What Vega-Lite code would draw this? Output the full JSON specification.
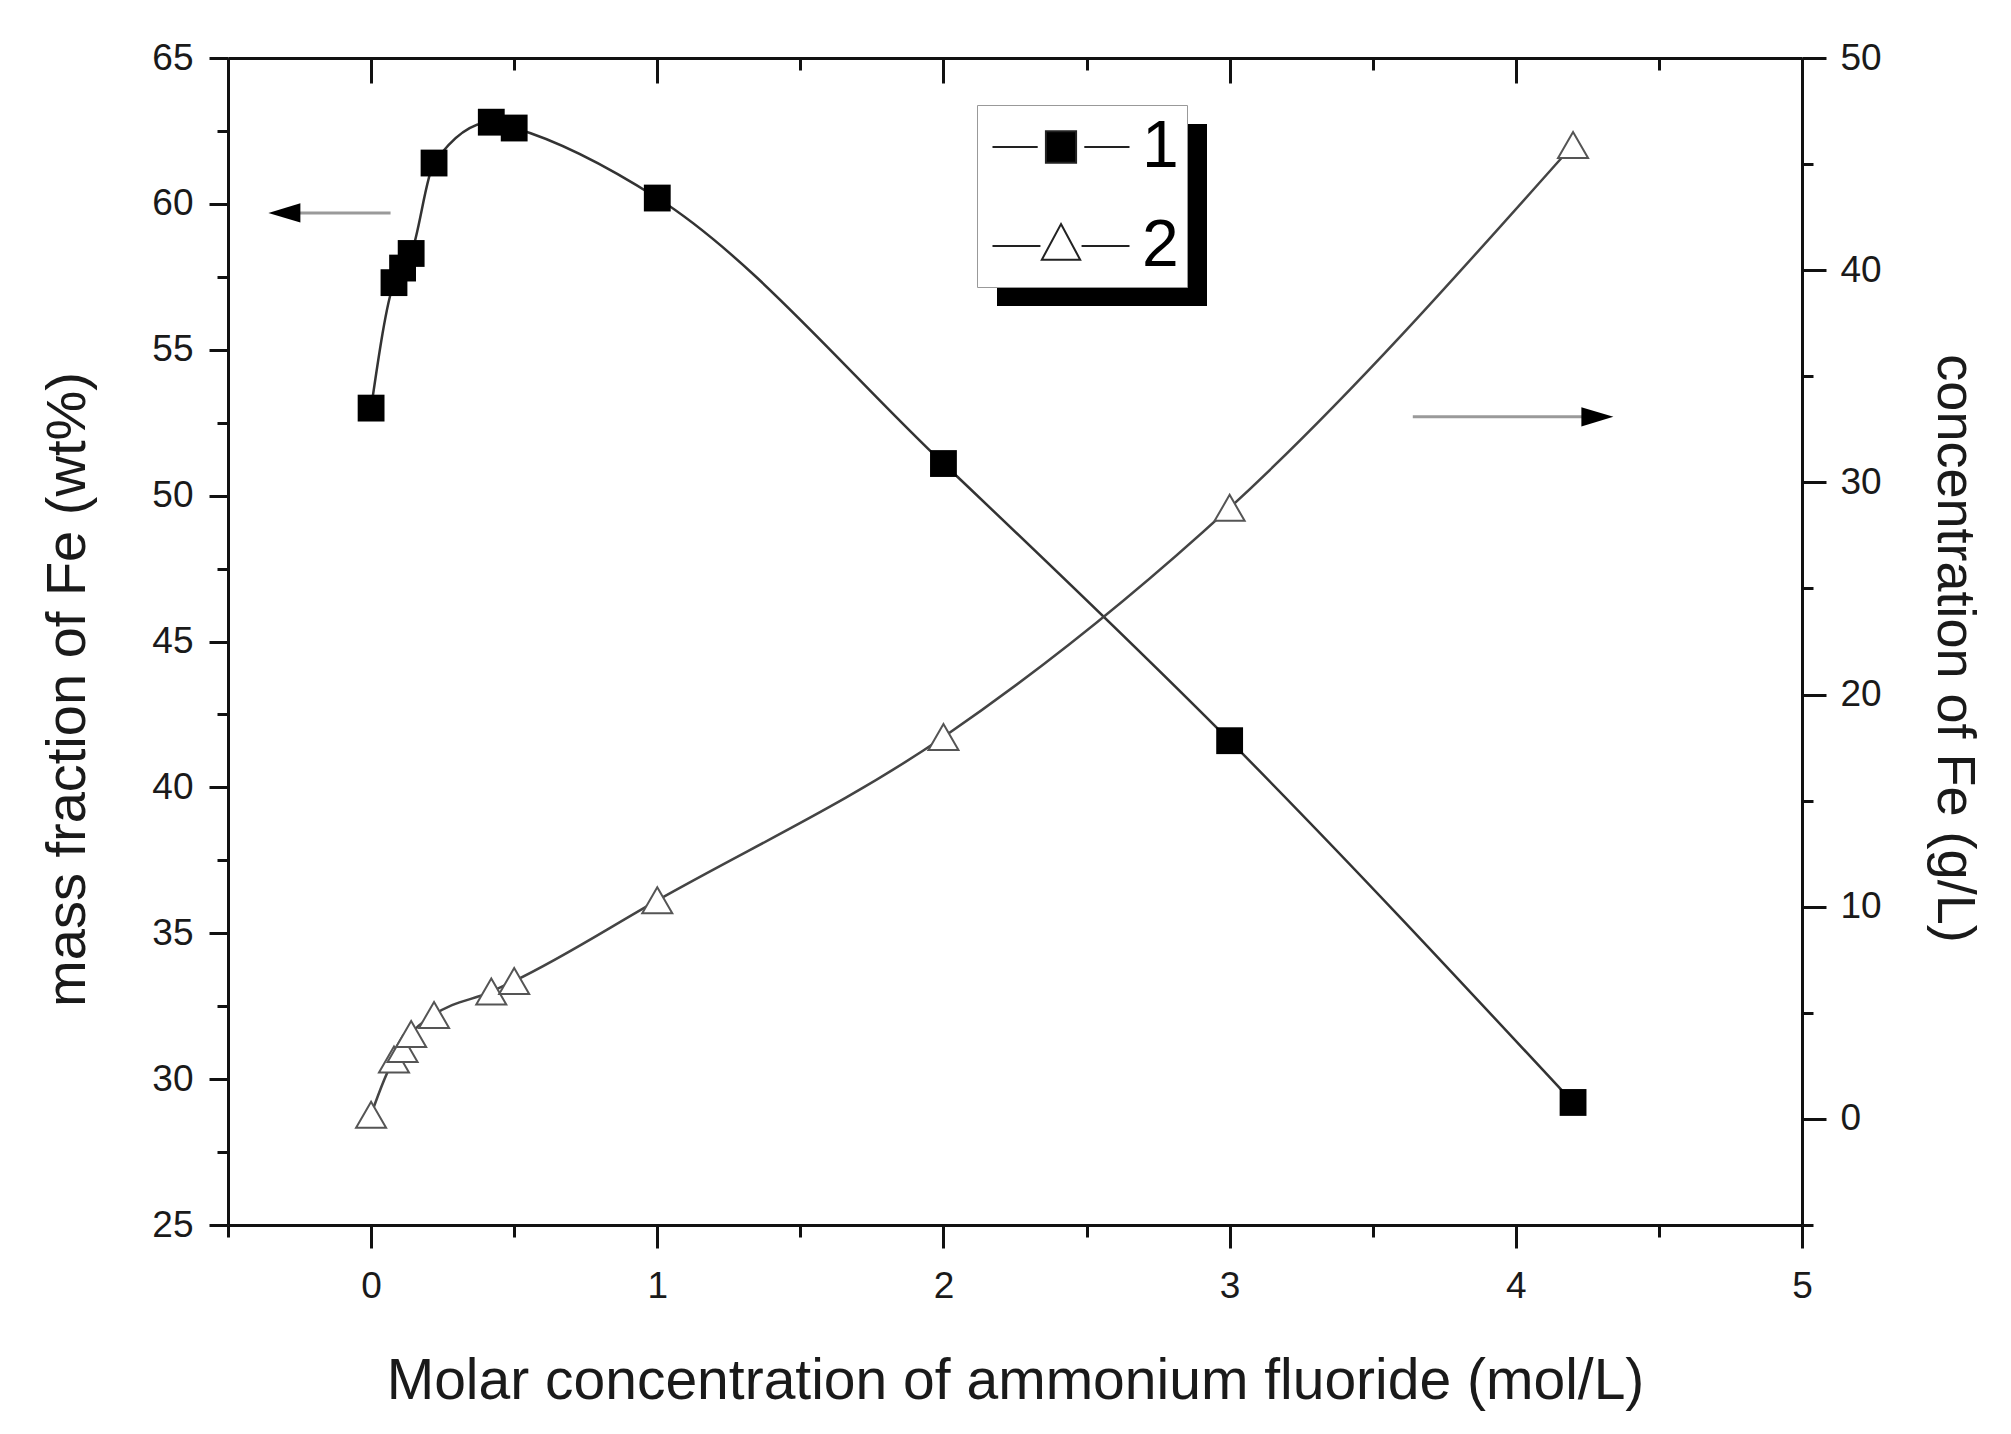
{
  "$schema": "https://vega.github.io/schema/vega-lite/v6.json",
  "width": 1574,
  "height": 1167,
  "autosize": {"type": "none"},
  "padding": {"left": 228, "top": 58, "right": 209, "bottom": 209},
  "background": "white",
  "config": {
    "view": {"stroke": null},
    "axis": {
      "labelFont": "Liberation Sans",
      "titleFont": "Liberation Sans",
      "labelFontSize": 37,
      "titleFontSize": 57,
      "labelColor": "#1a1a1a",
      "titleColor": "#1a1a1a",
      "titleFontWeight": "normal",
      "domainColor": "#111111",
      "tickColor": "#111111",
      "domainWidth": 3,
      "tickWidth": 3,
      "grid": false,
      "labelFlush": false,
      "labelOverlap": false
    }
  },
  "datasets": {
    "fe": [
      {"s": "1", "x": 0, "y": 53.0},
      {"s": "1", "x": 0.08, "y": 57.3},
      {"s": "1", "x": 0.11, "y": 57.8},
      {"s": "1", "x": 0.14, "y": 58.3},
      {"s": "1", "x": 0.22, "y": 61.4},
      {"s": "1", "x": 0.42, "y": 62.8},
      {"s": "1", "x": 0.5, "y": 62.6},
      {"s": "1", "x": 1, "y": 60.2},
      {"s": "1", "x": 2, "y": 51.1},
      {"s": "1", "x": 3, "y": 41.6},
      {"s": "1", "x": 4.2, "y": 29.2},
      {"s": "2", "x": 0, "y": 0.2},
      {"s": "2", "x": 0.08, "y": 2.8},
      {"s": "2", "x": 0.11, "y": 3.3},
      {"s": "2", "x": 0.14, "y": 4.0},
      {"s": "2", "x": 0.22, "y": 4.9},
      {"s": "2", "x": 0.42, "y": 6.0},
      {"s": "2", "x": 0.5, "y": 6.5},
      {"s": "2", "x": 1, "y": 10.3},
      {"s": "2", "x": 2, "y": 18.0},
      {"s": "2", "x": 3, "y": 28.8},
      {"s": "2", "x": 4.2, "y": 45.9}
    ],
    "arrows": [
      {"d": "left", "x1": -0.303, "x2": 0.068, "y": 59.69},
      {"d": "right", "x1": 3.64, "x2": 4.285, "y": 52.7}
    ]
  },
  "resolve": {"scale": {"y": "independent"}, "axis": {"x": "independent"}},
  "layer": [
    {
      "data": {"name": "fe"},
      "encoding": {
        "x": {
          "field": "x", "type": "quantitative",
          "scale": {"domain": [-0.5, 5], "nice": false, "zero": false},
          "axis": {
            "orient": "bottom",
            "values": [-0.5, 0, 0.5, 1, 1.5, 2, 2.5, 3, 3.5, 4, 4.5, 5],
            "labelExpr": "datum.value % 1 === 0 ? format(datum.value, 'd') : ''",
            "tickSize": {"condition": {"test": "datum.value % 1 === 0", "value": 23}, "value": 12},
            "labelPadding": 20,
            "title": "Molar concentration of ammonium fluoride (mol/L)",
            "titleBaseline": "alphabetic",
            "titleY": 173
          }
        },
        "y": {
          "field": "y", "type": "quantitative",
          "scale": {"domain": [25, 65], "nice": false, "zero": false},
          "axis": {
            "orient": "left",
            "values": [25, 27.5, 30, 32.5, 35, 37.5, 40, 42.5, 45, 47.5, 50, 52.5, 55, 57.5, 60, 62.5, 65],
            "labelExpr": "datum.value % 5 === 0 ? datum.label : ''",
            "tickSize": {"condition": {"test": "datum.value % 5 === 0", "value": 19}, "value": 11},
            "labelPadding": 16,
            "title": "mass fraction of Fe (wt%)",
            "titleFontSize": 56,
            "titleAngle": -90,
            "titleBaseline": "alphabetic",
            "titleAlign": "center",
            "titleX": -144,
            "titleY": 631
          }
        }
      },
      "layer": [
        {
          "transform": [{"filter": "datum.s === '1'"}],
          "mark": {"type": "line", "interpolate": "monotone", "color": "#333333", "strokeWidth": 2.5}
        },
        {
          "transform": [{"filter": "datum.s === '1'"}],
          "mark": {"type": "square", "size": 720, "color": "#000000", "filled": true, "opacity": 1}
        },
        {
          "data": {"name": "arrows"},
          "mark": {"type": "rule", "color": "#9a9a9a", "strokeWidth": 3},
          "encoding": {
            "x": {"field": "x1", "type": "quantitative"},
            "x2": {"field": "x2"},
            "y": {"field": "y", "type": "quantitative"}
          }
        },
        {
          "data": {"name": "arrows"},
          "transform": [{"filter": "datum.d === 'left'"}],
          "mark": {"type": "point", "shape": "M-1,0L1,-0.6L1,0.6Z", "size": 1024, "filled": true, "color": "#000000", "opacity": 1},
          "encoding": {
            "x": {"field": "x1", "type": "quantitative"},
            "y": {"field": "y", "type": "quantitative"}
          }
        },
        {
          "data": {"name": "arrows"},
          "transform": [{"filter": "datum.d === 'right'"}],
          "mark": {"type": "point", "shape": "M1,0L-1,-0.6L-1,0.6Z", "size": 1024, "filled": true, "color": "#000000", "opacity": 1},
          "encoding": {
            "x": {"field": "x2", "type": "quantitative"},
            "y": {"field": "y", "type": "quantitative"}
          }
        },
        {
          "mark": {"type": "point", "filled": true, "opacity": 0, "stroke": "#222222", "strokeWidth": 2},
          "encoding": {
            "strokeDash": {
              "field": "s", "type": "nominal",
              "legend": {
                "orient": "none", "legendX": 769, "legendY": 66, "title": null,
                "zindex": 0,
                "fillColor": "#000000",
                "labelColor": "#000000",
                "labelExpr": "'  '",
                "labelFont": "Liberation Sans",
                "labelFontSize": 66,
                "symbolType": "M-2.076,0H-0.706M-0.457,-0.478H0.457V0.478H-0.457ZM0.706,0H2.076",
                "symbolSize": 4356,
                "symbolOffset": 42,
                "symbolOpacity": 0,
                "symbolStrokeWidth": 2,
                "padding": 8,
                "rowPadding": 32,
                "labelOffset": 84
              }
            }
          }
        },
        {
          "mark": {"type": "point", "filled": true, "opacity": 0, "stroke": "#222222", "strokeWidth": 2},
          "encoding": {
            "shape": {
              "field": "s", "type": "nominal",
              "scale": {"domain": ["1", "2"], "range": ["M-2.076,0H-0.706M-0.457,-0.478H0.457V0.478H-0.457ZM0.706,0H2.076", "M-2.076,0H-0.623M0,-0.664L0.581,0.415H-0.581ZM0.623,0H2.076"]},
              "legend": {
                "orient": "none", "legendX": 749, "legendY": 47, "title": null,
                "zindex": 1,
                "fillColor": "#ffffff",
                "strokeColor": "#999999",
                "labelColor": "#000000",
                "labelFont": "Liberation Sans",
                "labelFontSize": 66,
                "symbolSize": 4356,
                "symbolOffset": 42,
                "symbolOpacity": 1,
                "symbolStrokeColor": "#222222",
                "symbolStrokeWidth": 2,
                "padding": 8,
                "rowPadding": 32,
                "labelOffset": 47,
                "encode": {"symbols": {"update": {"stroke": {"value": "#222222"}, "strokeWidth": {"value": 2}}}}
              }
            },
            "fill": {
              "field": "s", "type": "nominal",
              "scale": {"domain": ["1", "2"], "range": ["#000000", "#ffffff"]},
              "legend": {
                "orient": "none", "legendX": 749, "legendY": 47, "title": null,
                "zindex": 1,
                "fillColor": "#ffffff",
                "strokeColor": "#999999",
                "labelColor": "#000000",
                "labelFont": "Liberation Sans",
                "labelFontSize": 66,
                "symbolSize": 4356,
                "symbolOffset": 42,
                "symbolOpacity": 1,
                "symbolStrokeColor": "#222222",
                "symbolStrokeWidth": 2,
                "padding": 8,
                "rowPadding": 32,
                "labelOffset": 47,
                "encode": {"symbols": {"update": {"stroke": {"value": "#222222"}, "strokeWidth": {"value": 2}}}}
              }
            }
          }
        }
      ]
    },
    {
      "data": {"name": "fe"},
      "transform": [{"filter": "datum.s === '2'"}],
      "encoding": {
        "x": {
          "field": "x", "type": "quantitative",
          "scale": {"domain": [-0.5, 5], "nice": false, "zero": false},
          "axis": {
            "orient": "top",
            "values": [-0.5, 0, 0.5, 1, 1.5, 2, 2.5, 3, 3.5, 4, 4.5, 5],
            "labels": false,
            "tickSize": {"condition": {"test": "datum.value % 1 === 0", "value": -25}, "value": -12},
            "title": null
          }
        },
        "y": {
          "field": "y", "type": "quantitative",
          "scale": {"domain": [-5, 50], "nice": false, "zero": false},
          "axis": {
            "orient": "right",
            "values": [-5, 0, 5, 10, 15, 20, 25, 30, 35, 40, 45, 50],
            "labelExpr": "datum.value % 10 === 0 ? datum.label : ''",
            "tickSize": {"condition": {"test": "datum.value % 10 === 0", "value": 24}, "value": 11},
            "labelPadding": 14,
            "title": "concentration of Fe (g/L)",
            "titleFontSize": 54,
            "titleAngle": 90,
            "titleBaseline": "alphabetic",
            "titleAlign": "center",
            "titleX": 135,
            "titleY": 590
          }
        }
      },
      "layer": [
        {
          "mark": {"type": "line", "interpolate": "monotone", "color": "#444444", "strokeWidth": 2.5}
        },
        {
          "mark": {"type": "point", "shape": "triangle-up", "size": 900, "filled": false, "fill": "#ffffff", "stroke": "#555555", "strokeWidth": 2, "opacity": 1}
        }
      ]
    }
  ]
}
